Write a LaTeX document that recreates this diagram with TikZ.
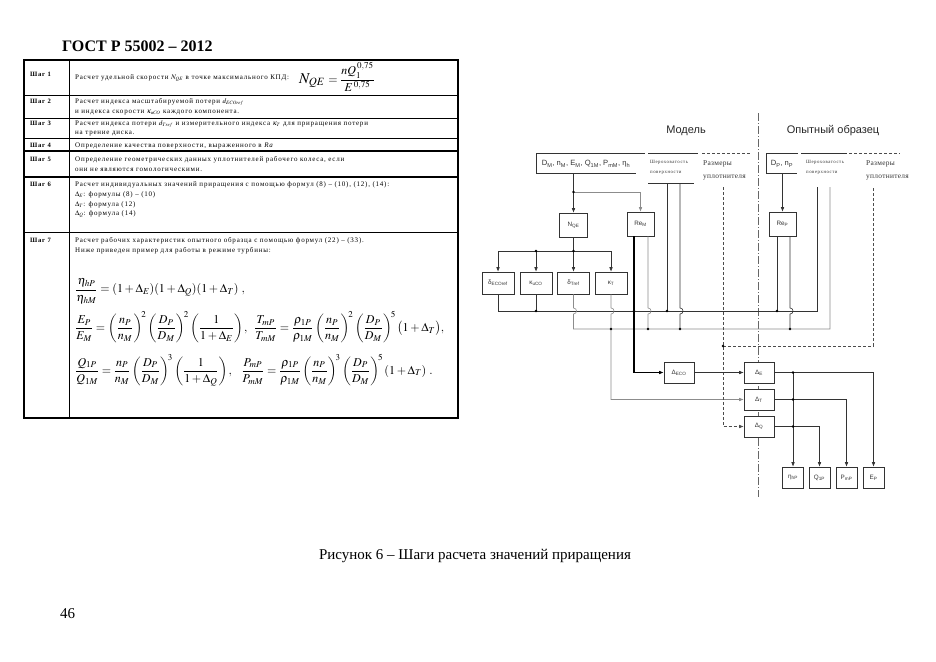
\documentclass[tikz,border=0pt]{standalone}
\usepackage{amsmath}
\usepackage{mathptmx}
\usepackage[no-math]{fontspec}
\setmainfont{Liberation Serif}
\setsansfont{Liberation Sans}
\newfontfamily\spacedfont[LetterSpace=11]{Liberation Serif}
\newfontfamily\loosefont[LetterSpace=4]{Liberation Serif}
\usetikzlibrary{arrows.meta,calc}

\begin{document}
\begin{tikzpicture}[x=1pt,y=-1pt,
  box/.style={draw=black!80, fill=white, line width=0.6pt, inner sep=0pt,
              font=\sffamily\fontsize{6.3}{7}\selectfont, text=black!80},
  wire/.style={draw=black!80, line width=0.6pt},
  pale/.style={draw=black!45, line width=0.6pt},
  heavy/.style={draw=black, line width=1.1pt},
  dashwire/.style={draw=black!70, line width=0.6pt, dash pattern=on 3pt off 2pt},
  arr/.style={-{Latex[length=4.5pt,width=3.6pt]}},
  hop/.style={insert path={.. controls +(4,0) and +(4,0) .. ++(0,6)}},
  rowtext/.style={anchor=base west, inner sep=0pt, font=\spacedfont\fontsize{7}{8}\selectfont},
  steplabel/.style={anchor=base west, inner sep=0pt, font=\spacedfont\bfseries\fontsize{6.6}{8}\selectfont},
  formula/.style={anchor=west, inner sep=0pt, font=\fontsize{12}{14}\selectfont},
  tinytext/.style={anchor=base west, inner sep=0pt, font=\spacedfont\fontsize{4.8}{6}\selectfont, text=black!80},
  sizetext/.style={anchor=base west, inner sep=0pt, font=\loosefont\fontsize{7.4}{8}\selectfont, text=black!80},
  head/.style={inner sep=0pt, font=\sffamily\fontsize{11}{13}\selectfont, text=black!85}]
\useasboundingbox (0,0) rectangle (936,661);

% page
\node[anchor=base west, inner sep=0pt, font=\bfseries\fontsize{16}{18}\selectfont] (title) at (62,52) {ГОСТ Р 55002 – 2012};
\node[anchor=base, inner sep=0pt, font=\fontsize{15}{17}\selectfont] (caption) at (475,559) {Рисунок 6 – Шаги расчета значений приращения};
\node[anchor=base west, inner sep=0pt, font=\fontsize{15}{17}\selectfont] (pagenum) at (60,618) {46};

% table of steps
\draw[line width=1.6pt] (24,60) rectangle (458,418);
\draw[line width=0.9pt] (69,60) -- (69,418);
\foreach \y in {95,118,138,232} \draw[line width=0.9pt] (24,\y) -- (458,\y);
\foreach \y in {151,177} \draw[line width=1.5pt] (24,\y) -- (458,\y);
\foreach \n/\y in {1/77,2/103,3/125,4/147,5/161,6/186,7/242}
  \node[steplabel] (step\n) at (30,\y) {Шаг \n};

\node[rowtext] (r1a) at (75,79) {Расчет удельной скорости $N_{QE}$ в точке максимального КПД:};
\node[formula] (r1f) at (299,77) {{\fontsize{15}{15}\selectfont$N_{QE}$}\;$=\dfrac{nQ_1^{\,0{,}75}}{E^{\,0{,}75}}$};
\node[rowtext] (r2a) at (75,103) {Расчет индекса масштабируемой потери $d_{ECOref}$};
\node[rowtext] (r2b) at (75,113) {и индекса скорости $\kappa_{uCO}$ каждого компонента.};
\node[rowtext] (r3a) at (75,125) {Расчет индекса потери $d_{Tref}$ и измерительного индекса $\kappa_T$ для приращения потери};
\node[rowtext] (r3b) at (75,134) {на трение диска.};
\node[rowtext] (r4a) at (75,147) {Определение качества поверхности, выраженного в \textit{Ra}};
\node[rowtext] (r5a) at (75,161) {Определение геометрических данных уплотнителей рабочего колеса, если};
\node[rowtext] (r5b) at (75,171) {они не являются гомологическими.};
\node[rowtext] (r6a) at (75,186) {Расчет индивидуальных значений приращения с помощью формул (8) – (10), (12), (14):};
\node[rowtext] (r6b) at (75,196) {$\Delta_E$: формулы (8) – (10)};
\node[rowtext] (r6c) at (75,206) {$\Delta_T$: формула (12)};
\node[rowtext] (r6d) at (75,215) {$\Delta_Q$: формула (14)};
\node[rowtext] (r7a) at (75,242) {Расчет рабочих характеристик опытного образца с помощью формул (22) – (33).};
\node[rowtext] (r7b) at (75,252) {Ниже приведен пример для работы в режиме турбины:};
\node[formula] (r7f1) at (75,291) {$\dfrac{\eta_{hP}}{\eta_{hM}}=(1+\Delta_E)(1+\Delta_Q)(1+\Delta_T)\ ,$};
\node[formula] (r7f2) at (75,327) {$\dfrac{E_P}{E_M}=\left(\dfrac{n_P}{n_M}\right)^{\!2}\left(\dfrac{D_P}{D_M}\right)^{\!2}\left(\dfrac{1}{1+\Delta_E}\right),\;\;
  \dfrac{T_{mP}}{T_{mM}}=\dfrac{\rho_{1P}}{\rho_{1M}}\left(\dfrac{n_P}{n_M}\right)^{\!2}\left(\dfrac{D_P}{D_M}\right)^{\!5}\bigl(1+\Delta_T\bigr),$};
\node[formula] (r7f3) at (75,370) {$\dfrac{Q_{1P}}{Q_{1M}}=\dfrac{n_P}{n_M}\left(\dfrac{D_P}{D_M}\right)^{\!3}\left(\dfrac{1}{1+\Delta_Q}\right),\;\;\;
  \dfrac{P_{mP}}{P_{mM}}=\dfrac{\rho_{1P}}{\rho_{1M}}\left(\dfrac{n_P}{n_M}\right)^{\!3}\left(\dfrac{D_P}{D_M}\right)^{\!5}(1+\Delta_T)\ .$};

% scheme: headings and inputs
\node[head] (model) at (686,131) {Модель};
\node[head] (proto) at (833,131) {Опытный образец};
\draw[black!60, line width=0.5pt, dash pattern=on 8pt off 2pt on 1pt off 2pt] (758,113) -- (758,497);

\draw[wire] (645,153) -- (536,153) -- (536,173) -- (636,173);
\node[font=\sffamily\fontsize{7.6}{8}\selectfont, text=black!80, inner sep=0pt] (dmtext) at (586,164)
  {D\textsubscript{M}, n\textsubscript{M}, E\textsubscript{M}, Q\textsubscript{1M}, P\textsubscript{mM}, η\textsubscript{h}};
\draw[wire] (648,153) -- (698,153);
\draw[wire] (648,183) -- (694,183);
\draw[dashwire] (702,153) -- (750,153);
\node[tinytext] (roughM1) at (650,163.5) {Шероховатость};
\node[tinytext] (roughM2) at (650,173.5) {поверхности};
\node[sizetext] (sealM1) at (703,165.5) {Размеры};
\node[sizetext] (sealM2) at (703,178) {уплотнителя};

\draw[wire] (798,153) -- (766,153) -- (766,173) -- (797,173);
\node[font=\sffamily\fontsize{7.6}{8}\selectfont, text=black!80, inner sep=0pt] (dptext) at (782,164)
  {D\textsubscript{P}, n\textsubscript{P}};
\draw[wire] (801,153) -- (847,153);
\draw[dashwire] (849,153) -- (900,153);
\node[tinytext] (roughP1) at (806,163.5) {Шероховатость};
\node[tinytext] (roughP2) at (806,173.5) {поверхности};
\node[sizetext] (sealP1) at (866,165.5) {Размеры};
\node[sizetext] (sealP2) at (866,178) {уплотнителя};

% scheme: blocks
\node[box, minimum width=28pt, minimum height=24pt] (nqe) at (573.5,225) {N\textsubscript{QE}};
\node[box, minimum width=27pt, minimum height=24pt] (rem) at (640.5,224) {Re\textsubscript{M}};
\node[box, minimum width=27pt, minimum height=24pt] (rep) at (782.5,224) {Re\textsubscript{P}};
\node[box, minimum width=32pt, minimum height=22pt] (decoref) at (498,283) {δ\textsubscript{ECOref}};
\node[box, minimum width=32pt, minimum height=22pt] (kuco) at (536,283) {κ\textsubscript{uCO}};
\node[box, minimum width=32pt, minimum height=22pt] (dtref) at (573.5,283) {δ\textsubscript{Tref}};
\node[box, minimum width=32pt, minimum height=22pt] (kt) at (611,283) {κ\textsubscript{T}};
\node[box, minimum width=30pt, minimum height=21pt] (deco) at (679,372.5) {Δ\textsubscript{ECO}};
\node[box, minimum width=30pt, minimum height=21pt] (dE) at (759,372.5) {Δ\textsubscript{E}};
\node[box, minimum width=30pt, minimum height=21pt] (dT) at (759,399.5) {Δ\textsubscript{T}};
\node[box, minimum width=30pt, minimum height=21pt] (dQ) at (759,426.5) {Δ\textsubscript{Q}};
\node[box, minimum width=21pt, minimum height=21pt] (eta) at (793,477.5) {η\textsubscript{hP}};
\node[box, minimum width=21pt, minimum height=21pt] (q1) at (819.5,477.5) {Q\textsubscript{1P}};
\node[box, minimum width=21pt, minimum height=21pt] (pm) at (846.5,477.5) {P\textsubscript{mP}};
\node[box, minimum width=21pt, minimum height=21pt] (ep) at (873.5,477.5) {E\textsubscript{P}};

\coordinate (dmout) at (573.5,173);
\coordinate (dmsplit) at (573.5,192);
\coordinate (dpout) at (782.5,173);
\coordinate (busN) at (573.5,251);
\coordinate (shl1) at (667,183);
\coordinate (shl2) at (680,183);
\coordinate (rzl) at (723,187);
\coordinate (shr1) at (817,187);
\coordinate (shr2) at (830,187);
\coordinate (rzr) at (873,187);
\coordinate (ya) at (0,311);
\coordinate (hopA) at (0,308);
\coordinate (yb) at (0,329);
\coordinate (yc) at (0,346);
\coordinate (remL) at ([xshift=-6.5pt]rem.south);
\coordinate (remR) at ([xshift=7.5pt]rem.south);
\coordinate (repL) at ([xshift=-5.5pt]rep.south);
\coordinate (repR) at ([xshift=7.5pt]rep.south);

% scheme: connectors
\draw[wire,arr] (dmout) -- (nqe.north);
\draw[pale,arr] (dmsplit) -- (dmsplit -| rem.north) -- (rem.north);
\draw[wire,arr] (dpout) -- (rep.north);
\draw[wire] (nqe.south) -- (busN);
\draw[wire] (decoref.north |- busN) -- (kt.north |- busN);
\foreach \b in {decoref,kuco,dtref,kt} \draw[wire,arr] (\b.north |- busN) -- (\b.north);

\draw[wire] (decoref.south) -- (decoref.south |- ya) -- (shr1 |- ya) -- (shr1);
\draw[wire] (kuco.south) -- (kuco.south |- ya);
\draw[pale] (dtref.south) -- (dtref.south |- hopA) [hop] -- (dtref.south |- yb) -- (shr2 |- yb) -- (shr2);
\draw[pale,arr] (kt.south) -- (kt.south |- hopA) [hop] -- (kt.south |- dT) -- (dT.west);
\draw[heavy,arr] (remL) -- (remL |- deco) -- (deco.west);
\draw[pale] (remR) -- (remR |- hopA) [hop] -- (remR |- yb);
\draw[wire] (shl1) -- (shl1 |- ya);
\draw[wire] (shl2) -- (shl2 |- hopA) [hop] -- (shl2 |- yb);
\draw[wire] (repL) -- (repL |- ya);
\draw[wire] (repR) -- (repR |- hopA) [hop] -- (repR |- yb);
\draw[dashwire,arr] (rzl) -- (rzl |- dQ) -- (dQ.west);
\draw[dashwire] (rzl |- yc) -- (rzr |- yc) -- (rzr);
\draw[wire,arr] (deco) -- (dE);

\draw[wire,arr] (dE.east) -- (dE.east -| ep.north) -- (ep.north);
\draw[wire,arr] (dT.east) -- (dT.east -| pm.north) -- (pm.north);
\draw[wire,arr] (dQ.east) -- (dQ.east -| q1.north) -- (q1.north);
\draw[wire,arr] (dE.east -| eta.north) -- (eta.north);

\fill[black] (dmsplit) circle[radius=1.3pt] (busN) circle[radius=1.3pt]
  (kuco.north |- busN) circle[radius=1.3pt] (kuco.south |- ya) circle[radius=1.3pt]
  (remL |- ya) circle[radius=1.3pt] (shl1 |- ya) circle[radius=1.3pt]
  (repL |- ya) circle[radius=1.3pt] (kt.south |- yb) circle[radius=1.3pt]
  (remR |- yb) circle[radius=1.3pt] (shl2 |- yb) circle[radius=1.3pt]
  (repR |- yb) circle[radius=1.3pt] (rzl |- yc) circle[radius=1.3pt]
  (dE.east -| eta.north) circle[radius=1.3pt] (dT.east -| eta.north) circle[radius=1.3pt]
  (dQ.east -| eta.north) circle[radius=1.3pt];
\end{tikzpicture}
\end{document}
